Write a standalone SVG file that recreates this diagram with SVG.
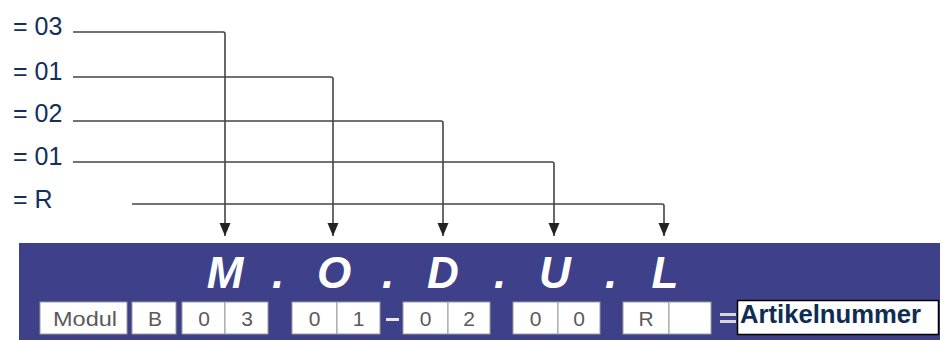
<svg xmlns="http://www.w3.org/2000/svg" width="947" height="340" viewBox="0 0 947 340">
<defs>
<marker id="arr" markerUnits="userSpaceOnUse" markerWidth="14" markerHeight="12" refX="13" refY="6" orient="auto" viewBox="0 0 14 12">
<path d="M0,0.5 L13,6 L0,11.5 Z" fill="#222"/>
</marker>
<style>
.lbl{font-family:"Liberation Sans",Arial,sans-serif;font-size:25px;fill:#12305a}
.conn{fill:none;stroke:#444;stroke-width:1.6}
.box{fill:#fff;stroke:#9a9a9a;stroke-width:1}
.bt{font-family:"Liberation Sans",Arial,sans-serif;font-size:21px;fill:#5a5a5a;text-anchor:middle}
.big{font-family:"Liberation Sans",Arial,sans-serif;font-size:44px;font-weight:bold;font-style:italic;fill:#fff;text-anchor:middle}
</style>
</defs>
<rect width="947" height="340" fill="#fff"/>
<g id="labels">
<text class="lbl" x="13" y="35">= 03</text>
<text class="lbl" x="13" y="80">= 01</text>
<text class="lbl" x="13" y="122">= 02</text>
<text class="lbl" x="13" y="165">= 01</text>
<text class="lbl" x="13" y="208">= R</text>
</g>
<g id="banner">
<rect x="19" y="243" width="921" height="97" fill="#3e4189"/>
<text class="big" x="225" y="288">M</text>
<text class="big" x="278" y="288">.</text>
<text class="big" x="334" y="288">O</text>
<text class="big" x="388" y="288">.</text>
<text class="big" x="443" y="288">D</text>
<text class="big" x="500" y="288">.</text>
<text class="big" x="555" y="288">U</text>
<text class="big" x="611" y="288">.</text>
<text class="big" x="665" y="288">L</text>
</g>
<g id="code">
<rect class="box" x="40" y="302" width="87" height="32"/>
<text class="bt" x="85" y="326" textLength="64" lengthAdjust="spacingAndGlyphs">Modul</text>
<rect class="box" x="132" y="302" width="44" height="32"/>
<text class="bt" x="155" y="326">B</text>
<rect class="box" x="182" y="302" width="43" height="32"/>
<text class="bt" x="204" y="326">0</text>
<rect class="box" x="225" y="302" width="43" height="32"/>
<text class="bt" x="247" y="326">3</text>
<rect class="box" x="292" y="302" width="45" height="32"/>
<text class="bt" x="314.5" y="326">0</text>
<rect class="box" x="337" y="302" width="43" height="32"/>
<text class="bt" x="358.5" y="326">1</text>
<rect x="386" y="318" width="13" height="3" fill="#e8e8e8"/>
<rect class="box" x="403" y="302" width="45" height="32"/>
<text class="bt" x="425.5" y="326">0</text>
<rect class="box" x="448" y="302" width="42" height="32"/>
<text class="bt" x="469" y="326">2</text>
<rect class="box" x="513" y="302" width="45" height="32"/>
<text class="bt" x="535.5" y="326">0</text>
<rect class="box" x="558" y="302" width="42" height="32"/>
<text class="bt" x="579" y="326">0</text>
<rect class="box" x="623" y="302" width="46" height="32"/>
<text class="bt" x="646" y="326">R</text>
<rect class="box" x="669" y="302" width="42" height="32"/>
<rect x="720" y="313" width="16" height="3" fill="#d8d8d8"/>
<rect x="720" y="320" width="16" height="3" fill="#d8d8d8"/>
</g>
<g id="artikelnummer">
<rect x="737.5" y="300.5" width="201" height="34" fill="#fff" stroke="#000" stroke-width="1.5"/>
<text x="740" y="323" font-family="'Liberation Sans',Arial,sans-serif" font-size="26" font-weight="bold" fill="#0f2d52" textLength="181" lengthAdjust="spacingAndGlyphs">Artikelnummer</text>
</g>
<g id="connectors">
<path class="conn" d="M73,32 H223 Q225,32 225,34 V236" marker-end="url(#arr)"/>
<path class="conn" d="M73,77 H331 Q333,77 333,79 V236" marker-end="url(#arr)"/>
<path class="conn" d="M73,121 H441 Q443,121 443,123 V236" marker-end="url(#arr)"/>
<path class="conn" d="M73,162 H552 Q554,162 554,164 V236" marker-end="url(#arr)"/>
<path class="conn" d="M132,204 H662 Q664,204 664,206 V236" marker-end="url(#arr)"/>
</g>
</svg>
